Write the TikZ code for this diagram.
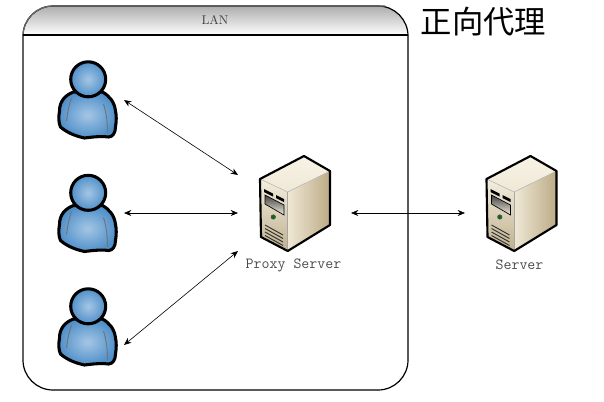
\documentclass[tikz,border=0pt]{standalone}
\usepackage{fontspec}
\newfontfamily\cjk{Noto Sans CJK SC}
\usetikzlibrary{arrows.meta}
\tikzset{
  link/.style={draw=black,line width=0.45pt,{Stealth[length=5.5pt,width=4.5pt]}-{Stealth[length=5.5pt,width=4.5pt]}},
  lbl/.style={inner sep=0pt,text=black!70,font=\fontsize{11.6}{12}\selectfont\ttfamily},
  iconbox/.style={inner sep=0pt,minimum width=60pt,minimum height=58pt},
  person/.pic={
    \path[draw=black,line width=2.3pt,line join=round,inner color=personlight,outer color=persondark]
      (33,41) .. controls (25,44) and (19,50) .. (19,60)
      .. controls (18,66) and (18,72) .. (20,76)
      .. controls (27,82) and (35,85) .. (44,87)
      .. controls (52,86) and (60,85) .. (68,86)
      .. controls (72,86) and (75,82) .. (75,76)
      .. controls (76,70) and (76,64) .. (75,60)
      .. controls (74,51) and (69,45) .. (62,41)
      -- cycle;
    \draw[black!55,line width=0.7pt] (31,47) .. controls (28,55) and (27,63) .. (26,70);
    \draw[black!55,line width=0.7pt] (63,53) .. controls (66,62) and (67,72) .. (67,82);
    \path[draw=black,line width=2.3pt,inner color=personlight,outer color=persondark]
      (47.7,28.3) circle[radius=17.5];
  },
  server/.pic={
    \path[left color=serverlight,right color=serverdark] (27.7,37) -- (70,16) -- (70,70) -- (27.7,96) -- cycle;
    \path[top color=serverfronttop,bottom color=serverfront] (0,24) -- (27.7,37) -- (27.7,96) -- (1,82) -- cycle;
    \path[top color=servertop,bottom color=serverlight] (0,24) -- (44,1) -- (70,16) -- (27.7,37) -- cycle;
    \draw[black!30,line width=0.4pt] (0,24) -- (27.7,37) -- (70,16);
    \draw[black!35,line width=0.4pt] (27.7,37) -- (27.7,96);
    \fill[black] (4,34) -- (13,38.5) -- (13,41.5) -- (4,37) -- cycle;
    \fill[black] (16,40) -- (24,44) -- (24,47) -- (16,43) -- cycle;
    \path[draw=black,line width=0.5pt,top color=black!75,bottom color=serverfronttop] (5,40) -- (24,50) -- (24,60) -- (5,49) -- cycle;
    \path[draw=black!70,line width=0.6pt,fill=green!45!black] (13.3,62) circle[radius=2.1];
    \foreach \d in {0,3.5,7,10.5}
      \draw[black!80,line width=0.7pt] (5,70+\d) -- (23,80+\d);
    \draw[black,line width=1.6pt,line join=round] (0,24) -- (44,1) -- (70,16) -- (70,70) -- (27.7,96) -- (1,82) -- cycle;
  }
}
\definecolor{personlight}{HTML}{A5C6E4}
\definecolor{persondark}{HTML}{5090CA}
\definecolor{serverlight}{HTML}{EFE8D6}
\definecolor{serverdark}{HTML}{BCAB86}
\definecolor{serverfront}{HTML}{BFB08D}
\definecolor{serverfronttop}{HTML}{F3EEDF}
\definecolor{servertop}{HTML}{F7F3E6}
\begin{document}
\begin{tikzpicture}[x=0.75pt,y=-0.75pt]
\useasboundingbox (0,0) rectangle (604,401);
% LAN frame
\path[top color=black!32,bottom color=white,rounded corners=22.5pt]
  (23,35) |- (408,6) -- (408,35);
\fill[white] (23,35) rectangle (408,36);
\draw[black,line width=0.9pt,rounded corners=22.5pt]
  (23,35) -- (23,390) -- (408,390) -- (408,6) -- (23,6) -- (23,35);
\draw[black!60,line width=0.9pt,rounded corners=22.5pt]
  (23,360) -- (23,6) -- (385,6);
\draw[black,line width=0.9pt] (23,35) -- (408,35);
\node[inner sep=0pt,text=black!75,font=\fontsize{9.5}{11}\selectfont] (lan) at (215,20) {LAN};
\node[inner sep=0pt,font=\fontsize{23.5}{26}\selectfont\cjk] (title) at (483.5,22) {正向代理};
% icons
\pic at (40.5,51) {person};
\pic at (40.5,164.5) {person};
\pic at (40.5,278) {person};
\pic at (260,155) {server};
\pic at (486.5,155) {server};
% anchors for connectors
\node[iconbox] (u1) at (88,100) {};
\node[iconbox] (u2) at (88,213.5) {};
\node[iconbox] (u3) at (88,327) {};
\node[iconbox] (px) at (294,213) {};
\node[iconbox] (sv) at (521,213) {};
\coordinate (u1e) at (124,100);
\coordinate (u2e) at (124,213);
\coordinate (u3e) at (124,345);
\coordinate (pxa) at (238,175);
\coordinate (pxb) at (238,213);
\coordinate (pxc) at (238,251);
\coordinate (pxd) at (351,213);
\coordinate (sve) at (465,213);
\draw[link] (u1e) -- (pxa);
\draw[link] (u2e) -- (pxb);
\draw[link] (u3e) -- (pxc);
\draw[link] (pxd) -- (sve);
\node[lbl] (pl) at (293.5,265) {Proxy Server};
\node[lbl] (sl) at (519.5,265) {Server};
\end{tikzpicture}
\end{document}
